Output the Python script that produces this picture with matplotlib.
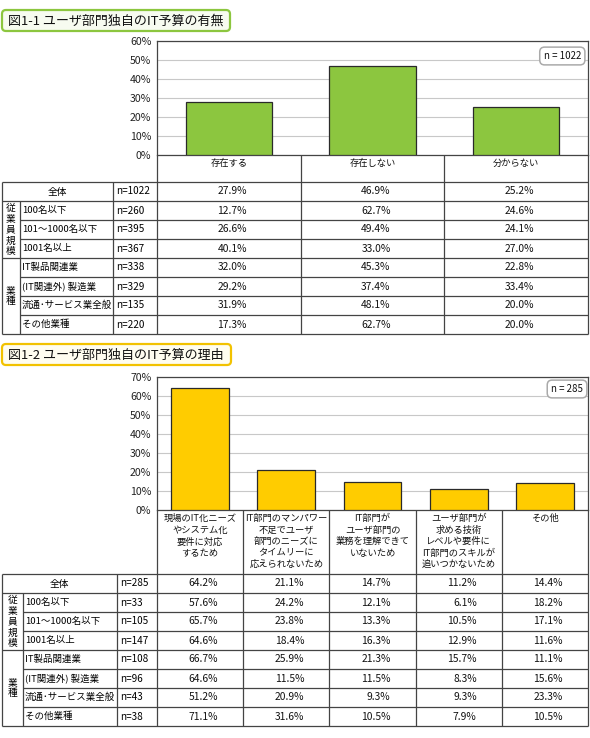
import matplotlib.pyplot as plt
from matplotlib.patches import FancyBboxPatch

plt.rcParams['font.family'] = ['Noto Sans CJK JP', 'DejaVu Sans']

W, H = 590, 738

# ---- data: figure 1-1 ----
title1 = "図1-1 ユーザ部門独自のIT予算の有無"
cats1 = ["存在する", "存在しない", "分からない"]
total1 = [27.9, 46.9, 25.2]
n_all1 = 1022
n1 = [260, 395, 367, 338, 329, 135, 220]
rows1 = [
    [12.7, 62.7, 24.6],
    [26.6, 49.4, 24.1],
    [40.1, 33.0, 27.0],
    [32.0, 45.3, 22.8],
    [29.2, 37.4, 33.4],
    [31.9, 48.1, 20.0],
    [17.3, 62.7, 20.0],
]

# ---- data: figure 1-2 ----
title2 = "図1-2 ユーザ部門独自のIT予算の理由"
cats2 = [
    "現場のIT化ニーズ\nやシステム化\n要件に対応\nするため",
    "IT部門のマンパワー\n不足でユーザ\n部門のニーズに\nタイムリーに\n応えられないため",
    "IT部門が\nユーザ部門の\n業務を理解できて\nいないため",
    "ユーザ部門が\n求める技術\nレベルや要件に\nIT部門のスキルが\n追いつかないため",
    "その他",
]
total2 = [64.2, 21.1, 14.7, 11.2, 14.4]
n_all2 = 285
n2 = [33, 105, 147, 108, 96, 43, 38]
rows2 = [
    [57.6, 24.2, 12.1, 6.1, 18.2],
    [65.7, 23.8, 13.3, 10.5, 17.1],
    [64.6, 18.4, 16.3, 12.9, 11.6],
    [66.7, 25.9, 21.3, 15.7, 11.1],
    [64.6, 11.5, 11.5, 8.3, 15.6],
    [51.2, 20.9, 9.3, 9.3, 23.3],
    [71.1, 31.6, 10.5, 7.9, 10.5],
]

row_names = ["100名以下", "101～1000名以下", "1001名以上", "IT製品関連業",
             "(IT関連外) 製造業", "流通･サービス業全般", "その他業種"]
groups = [("従業員規模", 1, 3), ("業種", 4, 7)]

LINE = '#444444'
fig = plt.figure(figsize=(W / 100, H / 100), dpi=100)
ov = fig.add_axes([0, 0, 1, 1])
ov.set_xlim(0, W)
ov.set_ylim(H, 0)
ov.axis('off')


def px_axes(x0, y0, x1, y1):
    return fig.add_axes([x0 / W, 1 - y1 / H, (x1 - x0) / W, (y1 - y0) / H])


def hline(y, x0, x1):
    ov.plot([x0, x1], [y, y], color=LINE, lw=0.9, solid_capstyle='butt')


def vline(x, y0, y1):
    ov.plot([x, x], [y0, y1], color=LINE, lw=0.9, solid_capstyle='butt')


def panel(title, tbox, tcol, tfill, plot, ymax, cats, total, n_all, ns, rows,
          color, bw, head_bot, cols, nbox):
    # title box
    x0, y0, x1, y1 = tbox
    ov.add_patch(FancyBboxPatch((x0 + 2, y0 + 2), x1 - x0 - 4, y1 - y0 - 4,
                                boxstyle="round,pad=2,rounding_size=4",
                                fc=tfill, ec=tcol, lw=1.6))
    ov.text(x0 + 6, (y0 + y1) / 2 + 0.5, title, fontsize=9.4, va='center',
            ha='left', color='#111111')

    # bar chart
    px0, py0, px1, py1 = plot
    ax = px_axes(px0, py0, px1, py1)
    k = len(cats)
    ax.bar(range(k), total, width=bw, color=color, edgecolor='#2a2a2a',
           lw=0.9, zorder=3)
    ax.set_xlim(-0.5, k - 0.5)
    ax.set_ylim(0, ymax)
    ticks = list(range(0, ymax + 1, 10))
    ax.set_yticks(ticks)
    ax.set_yticklabels([f"{t}%" for t in ticks], fontsize=7.6, color='#222222')
    ax.set_xticks([])
    ax.tick_params(axis='y', length=0, pad=4)
    ax.grid(axis='y', color='#c8c8c8', lw=0.8, zorder=0)
    for s in ax.spines.values():
        s.set_color(LINE)
        s.set_linewidth(0.9)
    ax.text(1 - nbox[0] / (px1 - px0), 1 - nbox[1] / (py1 - py0),
            f"n = {n_all}", transform=ax.transAxes, fontsize=7.0,
            ha='right', va='top', color='#111111',
            bbox=dict(boxstyle='round,pad=0.4,rounding_size=0.5', fc='white',
                      ec='#aaaaaa', lw=1.1))

    # header row with category names
    cw = (px1 - px0) / k
    for i in range(k + 1):
        vline(px0 + i * cw, py1, head_bot + 19 * 8)
    for i, c in enumerate(cats):
        ov.text(px0 + (i + 0.5) * cw, py1 + 4, c, fontsize=6.7, ha='center',
                va='top', linespacing=1.35, color='#111111')

    # table
    left, side, name_r = cols
    top = head_bot
    rh = 19
    bot = top + rh * 8
    hline(top, left, px1)
    hline(bot, left, px1)
    vline(left, top, bot)
    vline(name_r, top, bot)
    vline(side, top + rh, bot)
    for r in range(1, 8):
        y = top + r * rh
        starts_group = any(r == g[1] for g in groups)
        hline(y, left if starts_group else side, px1)

    def row_values(r, vals):
        yc = top + (r + 0.5) * rh
        for i, v in enumerate(vals):
            ov.text(px0 + (i + 0.5) * cw + 18, yc, f"{v:.1f}%", fontsize=7.4,
                    ha='right', va='center', color='#111111')

    yc = top + 0.5 * rh
    ov.text((left + name_r) / 2, yc, "全体", fontsize=7.0, ha='center',
            va='center')
    ov.text(name_r + 3, yc, f"n={n_all}", fontsize=7.2, ha='left', va='center')
    row_values(0, total)
    for r, (name, n, vals) in enumerate(zip(row_names, ns, rows), start=1):
        yc = top + (r + 0.5) * rh
        ov.text(side + 2, yc, name, fontsize=6.8, ha='left', va='center')
        ov.text(name_r + 3, yc, f"n={n}", fontsize=7.2, ha='left', va='center')
        row_values(r, vals)
    for label, r0, r1 in groups:
        ymid = top + (r0 + r1 + 1) / 2 * rh
        ov.text((left + side) / 2, ymid, "\n".join(label), fontsize=7.0,
                ha='center', va='center', linespacing=1.12)


panel(title1, (2, 10, 230, 31), '#8cc63f', '#f7fbf0', (157, 41, 588, 155), 60,
      cats1, total1, n_all1, n1, rows1, '#8cc63f', 0.6, 182, (2, 20, 113),
      (7, 10))
panel(title2, (2, 344, 231, 365), '#f2c200', '#fffdf0', (157, 377, 588, 510), 70,
      cats2, total2, n_all2, n2, rows2, '#ffcc00', 0.67, 574, (2, 23, 117),
      (5, 7))

fig.savefig('out.png', dpi=100, facecolor='white')
